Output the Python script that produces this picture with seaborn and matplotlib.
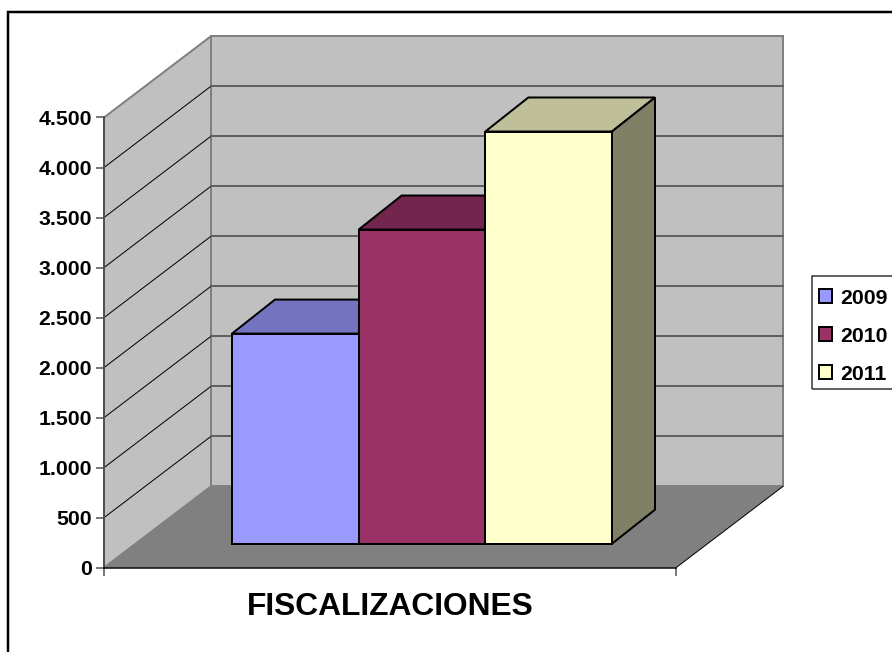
import seaborn as sns
import matplotlib.pyplot as plt
import pandas as pd
from matplotlib.patches import Polygon, Rectangle
from matplotlib.colors import to_rgb

years = ['2009', '2010', '2011']
values = [2100, 3140, 4120]
category = ['FISCALIZACIONES'] * 3
colors = ['#9999FF', '#993366', '#FFFFCC']
yticks = [0, 500, 1000, 1500, 2000, 2500, 3000, 3500, 4000, 4500]
ylabels = ['0', '500', '1.000', '1.500', '2.000', '2.500', '3.000', '3.500', '4.000', '4.500']

W, H = 892, 652
PX = 72 / 100  # one pixel in points

sns.set_style('white')
plt.rcParams['font.family'] = ['Liberation Sans', 'DejaVu Sans']
plt.rcParams['font.weight'] = 'bold'
plt.rcParams['text.color'] = 'black'
plt.rcParams['axes.labelcolor'] = 'black'
plt.rcParams['ytick.labelcolor'] = 'black'

fig = plt.figure(figsize=(W / 100, H / 100), dpi=100)
# the axes is the front plane of the 3D box
ax = fig.add_axes([104 / W, 1 - 567.7 / H, 572 / W, 450.2 / H])
ax.patch.set_alpha(0)

df = pd.DataFrame({'cat': category, 'year': years, 'value': values})
sns.barplot(data=df, x='cat', y='value', hue='year', palette=colors, hue_order=years,
            width=1, gap=0, saturation=1, edgecolor='black', linewidth=2 * PX, zorder=5, ax=ax)

# x runs -0.5..0.5 over the bars, 380 px per unit. y is 10 units per pixel
xpx = 1 / 380
ypx = 10
x0 = -0.5 - 128 * xpx
x1 = 0.5 + 64 * xpx
ymax = 4500
ax.set_xlim(x0, x1)
ax.set_ylim(0, ymax)

# depth of the box and of the bars
dx, dy = 107 * xpx, 81.3 * ypx
bar_dx, bar_dy = 43 * xpx, 34 * ypx
base = 24 * ypx

wall = '#C0C0C0'
edge = '#808080'


def poly(pts, z, **kw):
    ax.add_patch(Polygon(pts, closed=True, clip_on=False, zorder=z, **kw))


# side wall, back wall, floor
poly([(x0, 0), (x0 + dx, dy), (x0 + dx, ymax + dy), (x0, ymax)], 1,
     facecolor=wall, edgecolor=edge, linewidth=2 * PX)
poly([(x0 + dx, dy), (x1 + dx, dy), (x1 + dx, ymax + dy), (x0 + dx, ymax + dy)], 1,
     facecolor=wall, edgecolor=edge, linewidth=2 * PX)
poly([(x0, 0), (x1, 0), (x1 + dx, dy), (x0 + dx, dy)], 2,
     facecolor='#808080', edgecolor='none')

# gridlines
for t in yticks[1:-1]:
    ax.plot([x0, x0 + dx], [t, t + dy], color='black', lw=1 * PX, clip_on=False, zorder=2)
    ax.plot([x0 + dx, x1 + dx], [t + dy, t + dy], color='#606060', lw=2 * PX, clip_on=False, zorder=2)
ax.plot([x1, x1 + dx], [0, dy], color='black', lw=1 * PX, clip_on=False, zorder=3)
ax.plot([x0 + dx, x1 + dx], [dy, dy], color=edge, lw=2 * PX, clip_on=False, zorder=2)

# lift the bars off the front plane, add top and side faces
for bar, c in zip(ax.patches, colors):
    bar.set_y(base)
    bar.set_clip_on(False)
    left, right = bar.get_x(), bar.get_x() + bar.get_width()
    top = base + bar.get_height()
    r, g, b = to_rgb(c)
    poly([(left, top), (right, top), (right + bar_dx, top + bar_dy), (left + bar_dx, top + bar_dy)], 4,
         facecolor=(r * .75, g * .75, b * .75), edgecolor='black', linewidth=2 * PX)
    poly([(right, base), (right + bar_dx, base + bar_dy), (right + bar_dx, top + bar_dy), (right, top)], 4,
         facecolor=(r * .5, g * .5, b * .5), edgecolor='black', linewidth=2 * PX)

sns.despine(ax=ax)
ax.spines['left'].set_color('#505050')
ax.spines['left'].set_linewidth(2 * PX)
ax.spines['left'].set_zorder(6)
ax.spines['bottom'].set_color('black')
ax.spines['bottom'].set_linewidth(1.5 * PX)
ax.spines['bottom'].set_zorder(6)

ax.set_yticks(yticks)
ax.set_yticklabels(ylabels, fontsize=15.3, fontweight='bold')
ax.set_xticks([x0, x1])
ax.set_xticklabels([])
ax.tick_params(axis='y', left=True, length=8 * PX, width=1.5 * PX, color='#505050', pad=4 * PX)
ax.tick_params(axis='x', bottom=True, length=8 * PX, width=1.5 * PX, color='#505050')
ax.set_ylabel('')
ax.set_xlabel(category[0], fontsize=22.9, fontweight='bold', labelpad=11 * PX)

handles, labels = ax.get_legend_handles_labels()
leg = ax.legend(handles, labels, loc='upper left', bbox_to_anchor=(809.5 / W, 1 - 279 / H),
                bbox_transform=fig.transFigure, borderaxespad=0, frameon=False, borderpad=0.45,
                labelspacing=0.9, handlelength=0.62, handleheight=0.62, handletextpad=0.38,
                prop={'size': 15.3, 'weight': 'bold'})
leg.set_zorder(10)

# legend box and chart border, both run off the picture
fig.add_artist(Rectangle((811.5 / W, 1 - 389 / H), 100 / W, 113 / H, transform=fig.transFigure,
                         facecolor='none', edgecolor='#303030', linewidth=1.5 * PX))
fig.add_artist(Rectangle((7.5 / W, -0.05), 1, 1 - 12 / H + 0.05, transform=fig.transFigure,
                         facecolor='none', edgecolor='black', linewidth=2.5 * PX))

plt.savefig('out.png', dpi=100)
plt.close()
